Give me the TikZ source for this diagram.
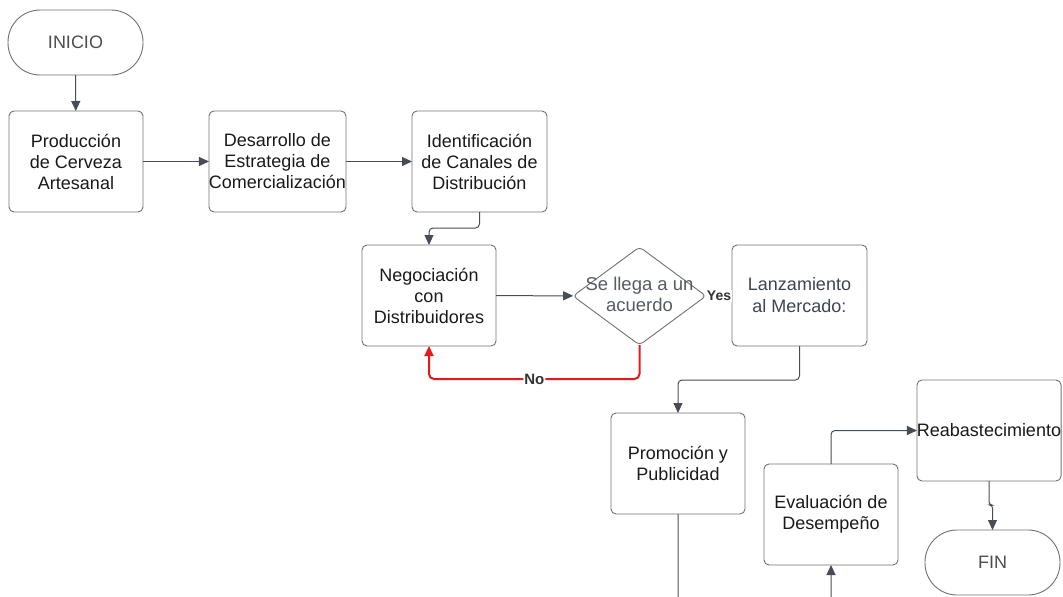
\documentclass[tikz,border=0pt]{standalone}
\usepackage{fontspec}
\setmainfont{Liberation Sans}
\usetikzlibrary{arrows.meta,shapes.geometric}
\definecolor{linegray}{HTML}{474D56}
\definecolor{boxgray}{HTML}{707070}
\definecolor{termtext}{HTML}{4D4D4D}
\definecolor{lanztext}{HTML}{3D4451}
\definecolor{dectext}{HTML}{555B63}
\definecolor{nored}{HTML}{E8191B}

\begin{document}
\begin{tikzpicture}[x=1pt,y=-1pt,inner sep=0pt,outer sep=0pt,
procblock/.style={draw=boxgray,rectangle,rounded corners=5pt,minimum width=134pt,minimum height=101pt,align=center,line width=0.9pt,text=black!90,font=\fontsize{18}{21}\selectfont},
termblock/.style={draw=boxgray,rectangle,rounded corners=32pt,minimum width=135pt,minimum height=65pt,line width=0.9pt,text=termtext,font=\fontsize{18}{21}\selectfont},
decblock/.style={draw=boxgray,diamond,rounded corners=4pt,minimum width=133pt,minimum height=98pt,line width=0.9pt},
flow/.style={draw=linegray,line width=1pt,rounded corners=4pt,-{Triangle[length=10pt,width=9pt]}},
flowlabel/.style={fill=white,inner sep=1pt,text=black!80,font=\fontsize{15}{17}\selectfont\bfseries}]

\useasboundingbox (0,0) rectangle (1063,597);

\draw (75.5,42.5) node[termblock] (inicio) {INICIO};
\draw (76,161.5) node[procblock] (prod) {Producción\\de Cerveza\\Artesanal};
\draw (277.5,161.5) node[procblock,minimum width=135pt] (desa) {Desarrollo de\\Estrategia de\\Comercialización};
\draw (479.5,161.5) node[procblock,minimum width=135pt] (ident) {Identificación\\de Canales de\\Distribución};
\draw (429,295.5) node[procblock] (nego) {Negociación\\con\\Distribuidores};
\draw (639.5,296) node[decblock,label={[font=\fontsize{18.5}{21}\selectfont,text=dectext,align=center,yshift=2pt]center:Se llega a un\\acuerdo}] (dec) {};
\draw (799.5,295.5) node[procblock,minimum width=135pt,text=lanztext,font=\fontsize{18}{22}\selectfont] (lanz) {Lanzamiento\\al Mercado:};
\draw (678,463.5) node[procblock] (promo) {Promoción y\\Publicidad};
\draw (831,514.5) node[procblock] (eval) {Evaluación de\\Desempeño};
\draw (989,430.5) node[procblock,minimum width=142pt] (reab) {Reabastecimiento};
\draw (992.5,562.5) node[termblock] (fin) {FIN};

\draw[flow] (inicio) -- (prod);
\draw[flow] (prod) -- (desa);
\draw[flow] (desa) -- (ident);
\draw[flow] (ident.south) -- ++(0,16) -| (nego.north);
\draw[flow] (nego) -- (dec);
\draw[draw=linegray,line width=1pt] (dec.east) -- node[flowlabel,font=\fontsize{14}{16}\selectfont\bfseries] (yes) {Yes} (lanz.west);
\draw[flow,draw=nored,line width=2pt,rounded corners=5pt] (dec.south) -- ++(0,34) -| node[flowlabel,pos=0.25] (no) {No} (nego.south);
\draw[flow] (lanz.south) -- ++(0,34) -| (promo.north);
\draw[flow] (promo.south) -- ++(0,110) -| (eval.south);
\draw[flow] (eval.north) |- (reab.west);
\draw[flow,rounded corners=3pt] (reab.south) -- ++(0,24) -| (fin.north);
\end{tikzpicture}
\end{document}
